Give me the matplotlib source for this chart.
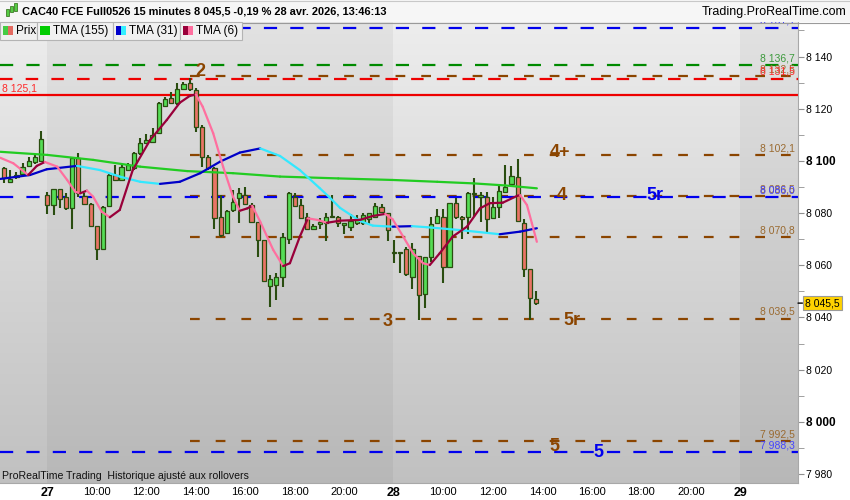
import numpy as np
import matplotlib.pyplot as plt
from matplotlib.collections import LineCollection
from matplotlib.patches import Rectangle
from matplotlib.lines import Line2D

plt.rcParams['font.family'] = ['Liberation Sans', 'DejaVu Sans']
plt.rcParams['lines.scale_dashes'] = False

# 15 minute bars, from 26 avr. 20:15 to 28 avr. 13:45 (x = bar number)
opens = [8097.2, 8091.8, 8093.7, 8095.0, 8098.2, 8099.5, 8100.0, 8086.9, 8083.1, 8089.1,
         8086.3, 8081.8, 8101.2, 8086.6, 8083.5, 8075.1, 8066.1, 8082.7, 8094.6, 8092.7,
         8096.5, 8097.2, 8102.9, 8107.0, 8107.4, 8110.8, 8121.2, 8124.2, 8122.1, 8127.7,
         8130.0, 8127.2, 8113.1, 8101.6, 8097.2, 8078.6, 8072.3, 8081.2, 8085.9, 8086.9,
         8083.1, 8076.5, 8069.7, 8052.1, 8052.4, 8055.6, 8070.0, 8086.3, 8083.0, 8078.4,
         8073.8, 8075.8, 8076.3, 8078.9, 8078.6, 8075.4, 8074.6, 8076.1, 8076.3, 8077.6,
         8078.6, 8082.5, 8079.9, 8065.2, 8064.6, 8066.2, 8055.6, 8063.7, 8048.9, 8063.1,
         8076.1, 8078.6, 8059.5, 8083.8, 8078.4, 8078.4, 8087.2, 8086.3, 8086.3, 8078.0,
         8082.5, 8088.2, 8091.2, 8094.0, 8076.3, 8058.5, 8047.0]
highs = [8097.6, 8096.5, 8095.9, 8099.1, 8101.6, 8102.3, 8111.5, 8088.2, 8089.1, 8089.1,
         8087.6, 8101.4, 8103.2, 8087.6, 8083.8, 8075.1, 8082.8, 8095.3, 8098.4, 8098.7,
         8099.1, 8103.5, 8108.7, 8110.3, 8112.5, 8122.5, 8124.6, 8126.5, 8129.8, 8130.4,
         8131.7, 8127.8, 8113.8, 8102.3, 8097.8, 8086.9, 8081.2, 8088.9, 8089.5, 8090.1,
         8083.8, 8076.7, 8069.7, 8056.3, 8056.9, 8072.3, 8088.2, 8087.8, 8085.3, 8079.9,
         8075.8, 8078.0, 8080.2, 8086.9, 8078.9, 8076.3, 8079.7, 8079.3, 8080.2, 8080.2,
         8083.8, 8083.5, 8080.2, 8069.7, 8065.0, 8067.1, 8068.7, 8063.7, 8063.1, 8078.4,
         8081.7, 8081.5, 8083.8, 8085.7, 8078.9, 8088.2, 8093.3, 8088.2, 8088.2, 8086.3,
         8091.0, 8098.4, 8098.1, 8100.6, 8077.6, 8058.5, 8050.0]
lows = [8091.4, 8091.4, 8093.0, 8094.6, 8097.8, 8098.8, 8099.7, 8079.7, 8079.3, 8081.8,
        8081.2, 8073.8, 8086.3, 8083.1, 8074.8, 8062.0, 8066.1, 8082.5, 8092.4, 8092.4,
        8096.1, 8096.5, 8102.3, 8106.7, 8107.0, 8110.3, 8120.6, 8121.8, 8121.5, 8127.2,
        8126.9, 8111.2, 8097.8, 8096.5, 8073.8, 8071.0, 8072.0, 8080.5, 8076.1, 8083.1,
        8076.1, 8063.3, 8053.7, 8043.9, 8046.7, 8051.8, 8068.2, 8082.2, 8077.6, 8073.5,
        8073.5, 8074.0, 8069.4, 8078.0, 8074.8, 8072.0, 8073.3, 8075.4, 8075.4, 8075.4,
        8078.4, 8079.9, 8069.4, 8061.0, 8057.2, 8055.9, 8050.8, 8039.0, 8043.5, 8061.4,
        8075.8, 8053.1, 8059.5, 8077.6, 8070.0, 8072.0, 8078.6, 8076.7, 8072.9, 8077.6,
        8078.0, 8088.2, 8090.8, 8076.7, 8055.6, 8039.0, 8044.8]
closes = [8093.3, 8093.0, 8094.6, 8097.6, 8100.0, 8101.4, 8108.3, 8083.1, 8089.1, 8085.3,
          8081.8, 8101.0, 8087.8, 8083.5, 8075.2, 8066.1, 8082.5, 8094.6, 8092.7, 8097.8,
          8098.4, 8103.2, 8107.0, 8108.0, 8109.9, 8122.1, 8123.6, 8122.1, 8127.5, 8129.4,
          8127.5, 8113.1, 8101.6, 8097.2, 8078.0, 8071.6, 8080.9, 8084.4, 8087.6, 8083.5,
          8076.7, 8069.7, 8054.0, 8054.6, 8055.4, 8071.0, 8087.8, 8082.7, 8078.0, 8073.8,
          8075.2, 8076.5, 8078.6, 8078.4, 8076.3, 8076.1, 8077.1, 8077.6, 8079.3, 8079.9,
          8082.8, 8080.5, 8073.5, 8064.8, 8065.0, 8056.7, 8066.2, 8048.6, 8063.1, 8075.8,
          8078.9, 8059.2, 8083.8, 8078.4, 8077.6, 8087.6, 8087.6, 8086.9, 8077.6, 8082.5,
          8088.5, 8090.1, 8094.3, 8077.1, 8058.5, 8047.3, 8045.5]

# moving averages (bar position, price)
tma155_x = [-0.6, 7, 14.4, 22, 29.6, 37, 44.6, 54, 62.8, 70, 75.8, 81, 86.1]
tma155_y = [8103.5, 8102.3, 8100.4, 8097.8, 8096.1, 8095.3, 8094.0, 8093.3, 8092.7,
            8092.0, 8091.4, 8090.6, 8089.5]
tma31_x = [-0.6, 4.2, 6.9, 11.8, 15.5, 18.7, 22, 25.2, 28.4, 31.7, 34.9, 38.1, 41.4,
           44.6, 47.8, 51, 52.7, 54.3, 57.5, 59.6, 62.8, 65.9, 68.3, 73.7, 80.1, 83.4, 86.1]
tma31_y = [8093.1, 8094.6, 8096.8, 8098.1, 8096.5, 8094.0, 8092.0, 8091.2, 8092.0, 8095.3,
           8099.7, 8103.2, 8104.8, 8101.9, 8096.5, 8089.6, 8085.8, 8082.0, 8077.0, 8075.2,
           8074.8, 8075.0, 8074.6, 8073.5, 8071.9, 8072.9, 8074.2]
tma6_x = [-0.6, 1.5, 3.9, 5.3, 6.6, 8.6, 10.2, 11.5, 12.3, 13.4, 14.4, 15.8, 17.1, 18.7,
          20.8, 23.6, 26.3, 28.4, 30, 31, 32.1, 33.8, 35.4, 37, 38.1, 39.3, 40.1, 41.4,
          43.5, 45.1, 46.2, 47.8, 49.1, 50.6, 52.2, 54.3, 57.5, 59.6, 61.6, 62.8, 64.5,
          66.1, 67.7, 68.8, 70.4, 72.5, 74.8, 76.9, 78.5, 80.6, 82.9, 83.4, 84.5, 85.3, 86.1]
tma6_y = [8101.2, 8099.1, 8094.6, 8098.1, 8099.6, 8097.8, 8092.7, 8088.2, 8087.6, 8088.6,
          8086.3, 8080.5, 8078.4, 8081.2, 8096.5, 8108.0, 8115.7, 8122.3, 8124.9, 8125.5,
          8120.8, 8110.6, 8097.8, 8086.3, 8080.9, 8081.8, 8082.8, 8076.7, 8065.9, 8059.7,
          8060.8, 8071.0, 8078.0, 8077.4, 8076.3, 8077.1, 8077.4, 8078.9, 8079.7, 8077.6,
          8071.0, 8064.6, 8060.8, 8060.1, 8064.6, 8071.0, 8074.8, 8081.8, 8083.8, 8084.0,
          8086.6, 8086.9, 8083.1, 8076.1, 8069.0]

# horizontal levels
levels = [8151.1, 8136.7, 8132.5, 8131.5, 8125.1, 8102.1, 8086.5, 8086.0,
          8070.8, 8039.5, 7992.5, 7988.3]

# time axis
tick_bars = [7, 15, 23, 31, 39, 47, 55, 63, 71, 79, 87, 95, 103, 111, 119]
tick_labels = ['27', '10:00', '12:00', '14:00', '16:00', '18:00', '20:00',
               '28', '10:00', '12:00', '14:00', '16:00', '18:00', '20:00', '29']
day_starts = [6.9, 62.9, 118.9]

W, H = 850, 500
fig = plt.figure(figsize=(W / 100, H / 100), dpi=100)
fig.patch.set_facecolor('white')


def frac(x, y, w, h):
    # pixel box (from top left) -> figure fraction
    return [x / W, 1 - (y + h) / H, w / W, h / H]


def fmt(v, dec=1):
    return f"{v:,.{dec}f}".replace(',', ' ').replace('.', ',')


ax = fig.add_axes(frac(0, 22, 798, 461))
xmin, xmax = -0.65, 128.3
ymin, ymax = 7976.55, 8153.25

# grey gradient background, every other day a bit darker
grad = np.linspace(0, 1, 200)[:, None, None]
top, bot = np.array([0.93, 0.93, 0.93]), np.array([0.755, 0.755, 0.755])
ax.imshow(top + (bot - top) * grad, extent=[0, 1, 0, 1], transform=ax.transAxes,
          aspect='auto', zorder=0)
ax.axvspan(day_starts[0], day_starts[1], color='black', alpha=0.045, lw=0, zorder=0.5)
ax.axvspan(day_starts[2], xmax + 5, color='black', alpha=0.045, lw=0, zorder=0.5)

blue, green, red, brown = '#0000ee', '#008a00', '#ee0000', '#8b4500'
level_style = [  # line colour, first bar, dashes, label colour
    (blue, xmin, (9.5, 9.5), '#3a3aff'),
    (green, xmin, (9.5, 9.5), '#3c9a3c'),
    (brown, 30, (7, 11.5), '#9a6a30'),
    (red, xmin, (9, 9.5), '#ff2a2a'),
    (red, xmin, None, None),
    (brown, 30, (7, 11.5), '#9a6a30'),
    (brown, 30, (7, 11.5), '#9a6a30'),
    (blue, xmin, (9.5, 9.5), '#4444ff'),
    (brown, 30, (7, 11.5), '#9a6a30'),
    (brown, 30, (7, 11.5), '#9a6a30'),
    (brown, 30, (7, 11.5), '#9a6a30'),
    (blue, xmin, (9.5, 9.5), '#4444ff'),
]
for v, (col, x0, dash, lcol) in zip(levels, level_style):
    if dash is None:
        ax.plot([x0, xmax], [v, v], color=col, lw=1.6, zorder=1)
        ax.annotate(fmt(v), xy=(2 / 798, v), xycoords=('axes fraction', 'data'),
                    xytext=(0, 1.5), textcoords='offset points', ha='left', va='bottom',
                    fontsize=7.5, color='#ff2a2a')
        continue
    ax.plot([x0, xmax], [v, v], color=col, lw=1.6, dashes=dash, zorder=1)
    ax.annotate(fmt(v), xy=(795 / 798, v), xycoords=('axes fraction', 'data'),
                xytext=(0, 1.5), textcoords='offset points', ha='right', va='bottom',
                fontsize=7.5, color=lcol)

# candles
idx = np.arange(len(opens))
o, h, l, c = map(np.array, (opens, highs, lows, closes))
body_lo = np.minimum(o, c)
body_h = np.maximum(np.abs(c - o), 0.35)
edge = '#2a4d10'
ax.vlines(idx, l, h, color=edge, lw=1.5, zorder=3)
ax.bar(idx, body_h, 0.68, bottom=body_lo,
       color=['#55dd55' if up else '#ea7466' for up in c >= o],
       edgecolor=edge, linewidth=0.9, zorder=4)


def draw_tma(xs, ys, rising, falling, lw=1.6):
    pts = np.column_stack([xs, ys])
    segs = np.stack([pts[:-1], pts[1:]], axis=1)
    cols = [rising if b >= a else falling for a, b in zip(ys[:-1], ys[1:])]
    ax.add_collection(LineCollection(segs, colors=cols, linewidths=lw,
                                     capstyle='round', joinstyle='round', zorder=5))


draw_tma(tma155_x, tma155_y, '#22cc22', '#22cc22')
draw_tma(tma31_x, tma31_y, '#0000c8', '#33e8ff')
draw_tma(tma6_x, tma6_y, '#99003a', '#ff6f9f')

# wave labels
for txt, xb, yv, col in [('2', 31.7, 8134.1, brown), ('4+', 89.8, 8103.4, brown),
                         ('4', 90.1, 8086.9, brown), ('5r', 105.2, 8086.6, blue),
                         ('3', 62.0, 8038.6, brown), ('5r', 91.8, 8039.0, brown),
                         ('5', 89.0, 7990.7, brown), ('5', 96.0, 7988.4, blue)]:
    ax.text(xb, yv, txt, ha='center', va='center', fontsize=13, fontweight='bold',
            color=col, zorder=6)

ax.text(2 / 798, 7 / 461, 'ProRealTime Trading  Historique ajusté aux rollovers',
        transform=ax.transAxes, fontsize=7.6, color='#111111', va='center', ha='left')

# axes
ax.set_xlim(xmin, xmax)
ax.set_ylim(ymin, ymax)
ax.yaxis.tick_right()
ax.set_yticks(np.arange(7980, 8141, 20))
ax.set_yticks(np.arange(7990, 8151, 20), minor=True)
ax.set_yticklabels([fmt(v, 0) for v in np.arange(7980, 8141, 20)])
ax.tick_params(axis='y', which='both', direction='out', length=4, color='#909090',
               pad=2, labelsize=7.5)
for lab, v in zip(ax.get_yticklabels(), np.arange(7980, 8141, 20)):
    if v % 100 == 0:
        lab.set_fontweight('bold')
        lab.set_fontsize(8.5)
ax.set_xticks(tick_bars, tick_labels)
ax.tick_params(axis='x', length=0, pad=3, labelsize=8)
for lab in ax.get_xticklabels():
    if ':' not in lab.get_text():
        lab.set_fontweight('bold')
        lab.set_fontsize(9)
for side in ['top', 'left']:
    ax.spines[side].set_visible(False)
for side in ['right', 'bottom']:
    ax.spines[side].set_color('#a8a8a8')

# last price tag
ax.annotate(fmt(closes[-1]), xy=(1, closes[-1]), xycoords=('axes fraction', 'data'),
            xytext=(5, 0), textcoords='offset points', ha='left', va='center',
            fontsize=7.5, annotation_clip=False,
            arrowprops=dict(arrowstyle='-', color='black', lw=1, shrinkA=0, shrinkB=0),
            bbox=dict(boxstyle='square,pad=0.2', fc='#ffd200', ec='#9a9a9a', lw=0.8))

# header bar
fig.add_artist(Rectangle((0, 1 - 22 / H), 1, 22 / H, transform=fig.transFigure,
                         facecolor='#f6f6f6', edgecolor='none', zorder=1))
fig.add_artist(Line2D([0, 1], [1 - 22.5 / H] * 2, color='#9a9a9a', lw=0.8, zorder=2))
fig.add_artist(Line2D([0, 1], [1 - 0.5 / H] * 2, color='#c8c8c8', lw=0.8, zorder=2))
for x0, y0, hh in [(6, 9, 7), (10, 6, 6), (14, 3, 8)]:
    fig.add_artist(Rectangle((x0 / W, 1 - (y0 + hh) / H), 2.5 / W, hh / H,
                             transform=fig.transFigure, facecolor='#55cc44',
                             edgecolor='#2a6a10', lw=0.5, zorder=2))
fig.text(22 / W, 1 - 12 / H,
         'CAC40 FCE Full0526 15 minutes 8 045,5 -0,19 % 28 avr. 2026, 13:46:13',
         fontsize=7.9, fontweight='bold', va='center', ha='left', zorder=3)
fig.text(846 / W, 1 - 12 / H, 'Trading.ProRealTime.com', fontsize=9,
         va='center', ha='right', zorder=3)

# legend boxes
legend = [('Prix', 0, 37, ['#44cc44', '#e46a60']),
          ('TMA (155)', 37, 76, ['#00cc00', '#00cc00']),
          ('TMA (31)', 113, 67, ['#0000cc', '#33eeff']),
          ('TMA (6)', 180, 62, ['#99003a', '#ff6f9f'])]
for name, x0, w, cols in legend:
    fig.add_artist(Rectangle((x0 / W, 1 - 40 / H), w / W, 18 / H,
                             transform=fig.transFigure, facecolor='#f0f0f0',
                             edgecolor='#b4b4b4', lw=0.8, zorder=2))
    for k, col in enumerate(cols):
        fig.add_artist(Rectangle(((x0 + 3 + 5 * k) / W, 1 - 35 / H), 5 / W, 9 / H,
                                 transform=fig.transFigure, facecolor=col,
                                 edgecolor='none', zorder=3))
    fig.text((x0 + 16) / W, 1 - 31 / H, name, fontsize=8.5, va='center', ha='left',
             zorder=4)

fig.savefig('out.png', dpi=100)
